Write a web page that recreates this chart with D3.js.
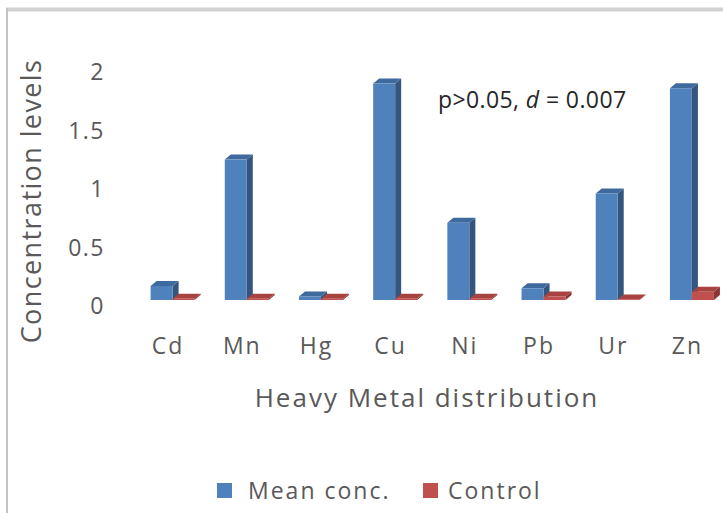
<!DOCTYPE html>
<html>
<head>
<meta charset="utf-8">
<script src="https://cdn.jsdelivr.net/npm/d3@7"></script>
<style>
  body { margin: 0; background: #fff; }
  text { font-family: "Open Sans", sans-serif; fill: #595959; }
</style>
</head>
<body>
<div id="canvas"></div>
<script>
var width = 723
var height = 513

var metals = ["Cd", "Mn", "Hg", "Cu", "Ni", "Pb", "Ur", "Zn"]
var meanConc = [0.12, 1.20, 0.03, 1.85, 0.66, 0.10, 0.91, 1.81]
var control = [0.01, 0.01, 0.01, 0.01, 0.01, 0.03, 0.005, 0.07]
var yTicks = [0, 0.5, 1, 1.5, 2]
var seriesNames = ["Mean conc.", "Control"]

var colors = {
    front: ["#4f81bd", "#c0504d"],
    top: ["#3f6a9e", "#a8423f"],
    side: ["#34557e", "#8a3533"]
}

var depthX = 6
var depthY = 5

var svg = d3.select("#canvas")
    .append("svg")
    .attr("width", width)
    .attr("height", height)

// frame edges visible in the screenshot
svg.append("line")
    .attr("x1", 6).attr("x2", width).attr("y1", 9.5).attr("y2", 9.5)
    .attr("stroke", "#d2d2d2").attr("stroke-width", 4)
svg.append("line")
    .attr("x1", 7).attr("x2", 7).attr("y1", 8).attr("y2", height)
    .attr("stroke", "#c4c4c4").attr("stroke-width", 2)

var xScale = d3.scaleBand().domain(metals).range([130, 723.5])
var subScale = d3.scaleBand().domain([0, 1]).range([0, 44])
var yScale = d3.scaleLinear().domain([0, 2]).range([300, 66])

// y tick labels
svg.selectAll(".ytick")
    .data(yTicks)
    .enter().append("text")
    .attr("class", "ytick")
    .attr("x", 105)
    .attr("y", function (d) { return yScale(d) + 6 })
    .attr("dy", "0.35em")
    .attr("text-anchor", "end")
    .style("font-size", "23px")
    .style("letter-spacing", "1.5px")
    .text(function (d) { return d })

// bars
var groups = svg.selectAll(".group")
    .data(metals)
    .enter().append("g")
    .attr("class", "group")
    .attr("transform", function (d) {
        return `translate(${xScale(d) + xScale.bandwidth() / 2 - 16.5},0)`
    })

groups.each(function (m, i) {
    var g = d3.select(this)
    var vals = [meanConc[i], control[i]]
    vals.forEach(function (v, s) {
        var x0 = subScale(s)
        var w = subScale.bandwidth()
        var yTop = yScale(v)
        var yBase = yScale(0)
        // side face
        g.append("polygon")
            .attr("points", [[x0 + w, yTop], [x0 + w + depthX, yTop - depthY], [x0 + w + depthX, yBase - depthY], [x0 + w, yBase]].join(" "))
            .attr("fill", colors.side[s])
        // top face
        g.append("polygon")
            .attr("points", [[x0, yTop], [x0 + depthX, yTop - depthY], [x0 + w + depthX, yTop - depthY], [x0 + w, yTop]].join(" "))
            .attr("fill", colors.top[s])
        // front face
        g.append("rect")
            .attr("x", x0)
            .attr("y", yTop)
            .attr("width", w)
            .attr("height", yBase - yTop)
            .attr("fill", colors.front[s])
    })
})

// category labels
svg.selectAll(".xlabel")
    .data(metals)
    .enter().append("text")
    .attr("class", "xlabel")
    .attr("x", function (d) { return xScale(d) + xScale.bandwidth() / 2 + 1 })
    .attr("y", 354)
    .attr("text-anchor", "middle")
    .style("font-size", "23px")
    .style("letter-spacing", "2px")
    .text(function (d) { return d })

// axis titles
svg.append("text")
    .attr("x", 427)
    .attr("y", 407)
    .attr("text-anchor", "middle")
    .style("font-size", "26px")
    .style("letter-spacing", "2px")
    .text("Heavy Metal distribution")

svg.append("text")
    .attr("transform", "translate(41,201) rotate(-90)")
    .attr("text-anchor", "middle")
    .style("font-size", "27px")
    .style("letter-spacing", "1.4px")
    .text("Concentration levels")

// annotation
var note = svg.append("text")
    .attr("x", 438)
    .attr("y", 108)
    .style("font-size", "23px")
    .style("letter-spacing", "0.4px")
    .style("fill", "#262626")
note.append("tspan").text("p>0.05, ")
note.append("tspan").style("font-style", "italic").text("d")
note.append("tspan").text(" = 0.007")

// legend
var legendX = [217, 423]
var legend = svg.selectAll(".legend")
    .data(seriesNames)
    .enter().append("g")
    .attr("class", "legend")
    .attr("transform", function (d, i) { return `translate(${legendX[i]},483)` })

legend.append("rect")
    .attr("width", 15)
    .attr("height", 15)
    .attr("fill", function (d, i) { return colors.front[i] })

legend.append("text")
    .attr("x", function (d, i) { return i === 0 ? 31 : 25 })
    .attr("y", 16)
    .style("font-size", "23px")
    .style("letter-spacing", "2px")
    .text(function (d) { return d })
</script>
</body>
</html>
